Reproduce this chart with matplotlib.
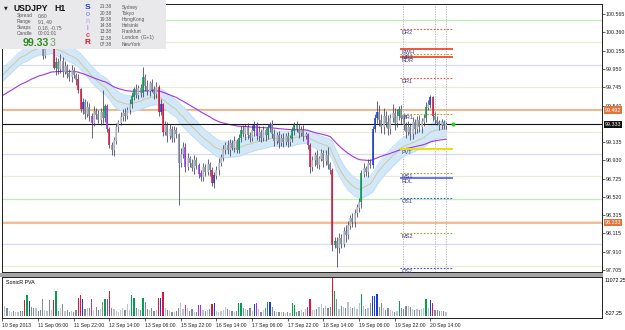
import numpy as np
import pandas as pd
import matplotlib
matplotlib.use("Agg")
import matplotlib.pyplot as plt
from matplotlib.patches import Rectangle
from matplotlib.transforms import blended_transform_factory

plt.rcParams['font.family'] = ['Liberation Sans', 'DejaVu Sans']

# ---------------- data ----------------
first_open = 100.25
closes = [
    100.28, 100.33, 100.30, 100.38, 100.42, 100.36, 100.44, 100.48, 100.40, 100.34,
    100.22, 100.40, 100.45, 100.38, 100.32, 100.36, 100.30, 100.27, 100.10, 100.24,
    100.30, 100.28, 100.30, 99.96, 100.02, 99.95, 100.04, 99.92, 99.98, 99.90,
    99.86, 99.93, 99.88, 99.83, 99.72, 99.50, 99.58, 99.45, 99.52, 99.42,
    99.35, 99.48, 99.44, 99.38, 99.47, 99.40, 99.53, 99.28, 99.10, 99.04,
    99.15, 99.30, 99.35, 99.41, 99.46, 99.42, 99.49, 99.56, 99.64, 99.72,
    99.66, 99.73, 99.68, 99.86, 99.76, 99.70, 99.79, 99.72, 99.67, 99.74,
    99.47, 99.55, 99.25, 99.32, 99.20, 99.28, 99.18, 99.26, 99.22, 98.90,
    99.00, 99.08, 98.86, 98.95, 98.90, 98.84, 98.93, 98.87, 98.78, 98.74,
    98.85, 98.80, 98.88, 98.82, 98.68, 98.76, 98.82, 98.90, 98.96, 99.05,
    99.10, 99.04, 99.12, 99.07, 99.14, 99.05, 99.18, 99.26, 99.22, 99.30,
    99.21, 99.18, 99.26, 99.32, 99.20, 99.24, 99.18, 99.26, 99.21, 99.30,
    99.33, 99.22, 99.15, 99.21, 99.12, 99.18, 99.14, 99.20, 99.13, 99.17,
    99.26, 99.32, 99.28, 99.24, 99.27, 99.20, 99.22, 99.10, 98.86, 98.93,
    98.98, 98.88, 98.95, 99.01, 98.92, 98.98, 98.88, 98.82, 97.98, 98.03,
    97.95, 98.06, 98.00, 98.14, 98.10, 98.20, 98.28, 98.24, 98.34, 98.40,
    98.46, 98.78, 98.84, 98.80, 98.90, 98.88, 99.28, 99.40, 99.47, 99.38,
    99.30, 99.42, 99.35, 99.28, 99.40, 99.45, 99.35, 99.42, 99.50, 99.40,
    99.32, 99.25, 99.30, 99.22, 99.35, 99.28, 99.38, 99.30, 99.36, 99.40,
    99.52, 99.55, 99.63, 99.42, 99.38, 99.35, 99.32, 99.35, 99.31, 99.333,
]
wick_up = [  # pips above candle body
    5, 4, 6, 5, 7, 4, 6, 8, 3, 4,
    3, 5, 6, 4, 5, 3, 4, 3, 2, 5,
    6, 4, 5, 4, 6, 5, 8, 4, 6, 3,
    5, 6, 4, 3, 6, 2, 5, 4, 7, 5,
    4, 6, 3, 5, 4, 25, 3, 3, 2, 4,
    4, 5, 3, 6, 4, 5, 4, 6, 5, 3,
    6, 4, 5, 11, 4, 7, 3, 5, 4, 6,
    3, 6, 2, 5, 4, 6, 3, 5, 4, 2,
    7, 5, 4, 6, 3, 5, 6, 4, 3, 4,
    5, 4, 6, 3, 3, 4, 5, 6, 4, 5,
    4, 6, 5, 4, 6, 3, 4, 5, 7, 4,
    5, 4, 6, 5, 4, 7, 4, 5, 3, 4,
    3, 5, 6, 4, 5, 4, 6, 3, 5, 4,
    4, 4, 5, 6, 4, 5, 3, 2, 2, 5,
    4, 6, 3, 5, 4, 6, 10, 3, 2, 4,
    4, 6, 5, 4, 7, 5, 4, 6, 5, 4,
    5, 4, 6, 3, 5, 4, 3, 5, 12, 8,
    7, 10, 6, 9, 5, 11, 6, 8, 4, 5,
    6, 4, 7, 5, 6, 4, 5, 6, 4, 5,
    6, 5, 3, 2, 5, 4, 3, 4, 3, 2,
]
wick_dn = [  # pips below candle body
    4, 5, 3, 6, 4, 5, 4, 3, 5, 4,
    3, 4, 5, 3, 6, 4, 5, 4, 4, 3,
    4, 5, 3, 1, 8, 5, 4, 6, 3, 5,
    4, 5, 3, 6, 4, 3, 5, 6, 4, 5,
    17, 4, 5, 3, 6, 5, 4, 3, 3, 5,
    6, 4, 5, 3, 4, 5, 3, 4, 5, 4,
    3, 5, 4, 4, 6, 4, 5, 3, 6, 4,
    4, 3, 5, 4, 6, 3, 5, 4, 4, 47,
    5, 4, 6, 4, 5, 3, 6, 4, 5, 4,
    4, 5, 3, 6, 4, 6, 4, 5, 3, 4,
    5, 4, 6, 3, 5, 4, 4, 5, 3, 6,
    4, 5, 3, 6, 4, 5, 4, 3, 6, 4,
    5, 4, 6, 4, 5, 3, 6, 4, 5, 4,
    4, 5, 3, 6, 4, 5, 3, 4, 7, 5,
    6, 4, 5, 3, 6, 4, 5, 4, 6, 3,
    21, 6, 5, 4, 8, 5, 4, 6, 5, 4,
    5, 6, 4, 5, 6, 4, 4, 3, 5, 7,
    6, 8, 5, 7, 6, 4, 8, 5, 4, 6,
    5, 7, 4, 6, 5, 6, 4, 5, 6, 5,
    4, 3, 4, 5, 4, 3, 5, 4, 3, 3,
]
volumes = [
    5500, 2800, 2200, 1500, 1300, 1400, 1200, 1300, 1400, 1500,
    4560, 6000, 4400, 2600, 2300, 2400, 1500, 1800, 4750, 1600,
    1400, 4560, 1800, 4560, 7200, 1500, 2200, 3300, 1400, 1600,
    1200, 1500, 1300, 1800, 5000, 6000, 4850, 2000, 2200, 2400,
    4750, 1800, 2500, 1600, 2000, 4000, 4750, 4850, 7000, 2300,
    2000, 1500, 1300, 1700, 2300, 1600, 3300, 1800, 6000, 5000,
    2400, 1900, 1600, 5200, 4000, 2000, 1700, 2300, 1500, 1800,
    5200, 5200, 6700, 2200, 1800, 1400, 1200, 1300, 1500, 2400,
    3600, 2000, 3100, 2200, 1500, 1900, 1300, 1200, 3100, 3100,
    1800, 1400, 1600, 2000, 3300, 3600, 1500, 1200, 1400, 1800,
    2600, 2100, 1700, 1500, 1300, 1400, 3800, 3800, 2300, 2000,
    1800, 2400, 1500, 3400, 3600, 2000, 1300, 1800, 2200, 3900,
    4100, 2500, 1500, 1300, 1200, 1100, 1300, 1000, 1200, 900,
    3800, 3100, 1300, 1500, 1800, 1200, 1900, 2600, 4850, 1600,
    1800, 2000, 2600, 3300, 2300, 2800, 2400, 2600, 10900, 7000,
    4750, 2100, 3000, 2500, 2400, 3900, 2600, 2300, 2500, 2100,
    3600, 6300, 2800, 1900, 2200, 3600, 5700, 5700, 6200, 2600,
    3800, 2200, 1800, 2300, 1600, 1400, 1200, 1500, 4300, 2300,
    1900, 2800, 2900, 2600, 2000, 1800, 1900, 1700, 2100, 2200,
    4850, 2300, 4560, 3800, 1700, 1600, 1500, 1400, 1500, 1300,
]
climax_bull = [11, 24, 46, 58, 59, 63, 106, 107, 119, 130, 131, 149, 161, 178, 190]
climax_bear = [10, 23, 34, 35, 48, 70, 72, 94, 138, 148, 193]
rising_bull = [12, 36, 71, 95, 113, 120, 166, 167, 168, 192]
rising_bear = [40, 47, 82, 88, 89, 114, 137]

# EMA seeds (indicator values at the first visible bar)
seed_hi, seed_lo, seed_mid, seed_trend = 99.93, 99.79, 99.86, 99.64

tick_step = 16
x_labels = ["10 Sep 2013", "11 Sep 06:00", "11 Sep 22:00", "12 Sep 14:00", "13 Sep 06:00",
            "15 Sep 22:00", "16 Sep 14:00", "17 Sep 06:00", "17 Sep 22:00", "18 Sep 14:00",
            "19 Sep 06:00", "19 Sep 22:00", "20 Sep 14:00"]
y_ticks = [100.565, 100.360, 100.155, 99.950, 99.745, 99.540, 99.135, 98.930,
           98.725, 98.520, 98.315, 98.115, 97.910, 97.705]
round_levels = [100.5, 100.25, 100.0, 99.75, 99.5, 99.25, 99.0, 98.75, 98.5, 98.25, 98.0, 97.75]
orange_levels = [99.492, 98.233]
bid = 99.333
pivot_names = ['DR2', 'RWH', 'MR2', 'RDR', 'DR1', 'MR1', 'PVT', 'MS1', 'RDL', 'OS1', 'MS2', 'OS2']
pivot_levels = [100.397, 100.174, 100.118, 100.085, 99.850, 99.448, 99.057, 98.790, 98.733, 98.510, 98.120, 97.730]
pivot_start, pivot_end = 178.3, 202.2
session_lines = [179.5, 194.0, 199.0]
vol_min, vol_max = -527.25, 11072.25
sessions_time = ["21:38", "20:38", "19:38", "14:38", "13:38", "12:38", "07:38"]
sessions_city = ["Sydney", "Tokyo", "HongKong", "Helsinki", "Frankfurt", "London  (G+1)", "NewYork"]
info_keys = ["Spread", "Range", "Swaps", "Candle"]
info_vals = ["0.60", "91, 49", "0.18, -0.75", "00:01:01"]

# ---------------- derived ----------------
n = len(closes)
c = np.array(closes)
o = np.r_[first_open, c[:-1]]
hi = np.maximum(o, c) + np.array(wick_up) / 100.0
lo = np.minimum(o, c) - np.array(wick_dn) / 100.0
x = np.arange(n)

def ema(vals, seed, span):
    s = pd.Series(np.r_[seed, vals]).ewm(span=span, adjust=False).mean().values
    return s[1:]

band_hi = ema(hi, seed_hi, 34)
band_lo = ema(lo, seed_lo, 34)
band_mid = ema(c, seed_mid, 34)
trend = ema(c, seed_trend, 89)

C_GREEN, C_RED, C_BLUE, C_PURP = '#00A050', '#E0143C', '#1A3AD8', '#A035E8'
C_UP, C_DN = '#BCC3CB', '#7F8B97'
cols = []
for i in range(n):
    if i in climax_bull:
        cols.append(C_GREEN)
    elif i in climax_bear:
        cols.append(C_RED)
    elif i in rising_bull:
        cols.append(C_BLUE)
    elif i in rising_bear:
        cols.append(C_PURP)
    else:
        cols.append(C_UP if c[i] >= o[i] else C_DN)

# ---------------- figure ----------------
W, H = 625, 330
fig = plt.figure(figsize=(W / 100, H / 100), dpi=100)
fig.patch.set_facecolor('white')
def fx(p): return p / W
def fy(p): return 1 - p / H

FS = 3.8
ax = fig.add_axes([fx(2), fy(272), 600 / W, 268 / H])
axv = fig.add_axes([fx(2), fy(318), 600 / W, 41 / H])
xl = (-0.224, 268.96)
for a in (ax, axv):
    a.set_xlim(*xl)
    for s in a.spines.values():
        s.set_linewidth(0.7)
        s.set_color('#202020')
ax.set_ylim(97.682, 100.677)

# round levels
for lv in round_levels:
    frac = round(lv % 1, 2)
    col = '#BDEFB5' if frac == 0.5 else ('#DADAF6' if frac == 0.0 else '#EAEAD6')
    ax.axhline(lv, color=col, lw=0.9, zorder=1)
for lv in orange_levels:
    ax.axhline(lv, color='#F2A77A', lw=1.1, zorder=1.2)

# session lines
for sx in session_lines:
    ax.axvline(sx, color='#A8A8A8', lw=0.6, ls=(0, (1.5, 1.5)), zorder=1.3)

# dragon band and trend
ax.fill_between(x, band_lo, band_hi, color='#D2E8F8', lw=0, zorder=2)
ax.plot(x, band_hi, color='#BCDDF4', lw=0.6, zorder=2.1)
ax.plot(x, band_lo, color='#BCDDF4', lw=0.6, zorder=2.1)
ax.plot(x, band_mid, color='#C9C690', lw=0.6, zorder=2.2)
ax.plot(x, trend, color='#A235E0', lw=0.8, zorder=2.3)
ax.axhline(bid, color='#101010', lw=0.8, zorder=2.5)

# candles
ax.vlines(x, lo, hi, colors='#3A3A5C', lw=0.55, zorder=4)
ax.vlines(x, np.minimum(o, c), np.maximum(o, c) + 0.004, colors=cols, lw=1.15, zorder=4.2)

# pivots
pstyle = {
    'DR': dict(color='#F04A3A', lw=0.8, ls=(0, (1.5, 1.5))),
    'R': dict(color='#F03A1A', lw=1.2, ls='-'),
    'M': dict(color='#A8A030', lw=0.8, ls=(0, (1.5, 1.5))),
    'P': dict(color='#E8E000', lw=1.4, ls='-'),
    'RL': dict(color='#4A60E0', lw=1.2, ls='-'),
    'O': dict(color='#3A4AF0', lw=0.8, ls=(0, (1.5, 1.5))),
}
for name, lv in zip(pivot_names, pivot_levels):
    if name.startswith('DR'):
        st = pstyle['DR']
    elif name == 'RDL':
        st = pstyle['RL']
    elif name.startswith('R'):
        st = pstyle['R']
    elif name.startswith('M'):
        st = pstyle['M']
    elif name == 'PVT':
        st = pstyle['P']
    else:
        st = pstyle['O']
    ax.plot([pivot_start, pivot_end], [lv, lv], zorder=5, solid_capstyle='butt', **st)
    ax.annotate(name, (pivot_start + 0.6, lv), xytext=(0, -0.6), textcoords='offset points',
                ha='left', va='top', fontsize=4.0, color='#3A3A86', zorder=6)

# current price dot
ax.scatter([n + 2], [c[-1]], s=9, color='#22D022', zorder=7, linewidths=0)

# y axis
ax.yaxis.tick_right()
ax.set_yticks(y_ticks)
ax.set_yticklabels([f"{v:.3f}" for v in y_ticks])
ax.tick_params(axis='y', length=1.8, width=0.5, labelsize=FS, pad=0.8, colors='#202020')
ax.set_xticks([])
tr = blended_transform_factory(ax.transAxes, ax.transData)
for lv, fc in ((orange_levels[0], '#E0743A'), (bid, '#101010'), (orange_levels[1], '#E0743A')):
    ax.text(1.0045, lv, f"{lv:.3f}", transform=tr, fontsize=FS, color='white', va='center',
            ha='left', clip_on=False, zorder=8,
            bbox=dict(boxstyle='square,pad=0.2', fc=fc, ec='none'))

# volume panel
axv.bar(x, volumes, width=0.55, color=cols, lw=0, zorder=2)
axv.set_ylim(vol_min, vol_max)
axv.set_yticks([])
axv.set_xticks(np.arange(len(x_labels)) * tick_step)
axv.set_xticklabels(x_labels)
for t in axv.get_xticklabels():
    t.set_ha('left')
axv.tick_params(axis='x', length=2, width=0.5, labelsize=3.7, pad=1.5, colors='#202020')
axv.text(0.006, 0.93, "SonicR PVA", transform=axv.transAxes, fontsize=FS, va='top', ha='left')
axv.text(1.004, 0.92, f"{vol_max:.2f}", transform=axv.transAxes, fontsize=FS, va='center', ha='left', clip_on=False)
axv.text(1.004, 0.10, f"{vol_min:.2f}", transform=axv.transAxes, fontsize=FS, va='center', ha='left', clip_on=False)

# separator between panels
fig.patches.append(Rectangle((fx(0), fy(276.5)), fx(603), 3.5 / H, transform=fig.transFigure,
                             fc='#A4A4A4', ec='none', zorder=3))

# info box
fig.patches.append(Rectangle((0, fy(49)), fx(166), 49 / H, transform=fig.transFigure,
                             fc='#E9E9EC', ec='none', zorder=5))
tk = dict(zorder=6, va='center', ha='left')
fig.text(fx(4), fy(7.5), "\u25BC", fontsize=3.5, color='#202020', family=['DejaVu Sans'], **tk)
fig.text(fx(13), fy(8.5), "USDJPY", fontsize=6.2, weight='bold', color='#101010', **tk)
fig.text(fx(54), fy(8.5), "H1", fontsize=6.2, weight='bold', color='#101010', **tk)
for k, (key, val) in enumerate(zip(info_keys, info_vals)):
    yy = 16 + k * 5.7
    fig.text(fx(17), fy(yy), key, fontsize=3.5, color='#555555', **tk)
    fig.text(fx(38), fy(yy), val, fontsize=3.5, color='#555555', **tk)
fig.text(fx(22.5), fy(43.5), f"{bid:.3f}"[:-1], fontsize=7.6, weight='bold', color='#2F8A22', **tk)
fig.text(fx(49.8), fy(43.5), f"{bid:.3f}"[-1], fontsize=7.6, color='#6FA068', **tk)
sonic = [("S", '#2040E0', 6, 'bold'), ("o", '#5A7AF0', 5.2, 'normal'), ("n", '#B8A2E8', 5.2, 'normal'),
         ("i", '#C05ACF', 5.2, 'normal'), ("c", '#E0405A', 5.2, 'bold'), ("R", '#E0102A', 6, 'bold')]
for k, (ch, col, fs, wt) in enumerate(sonic):
    fig.text(fx(87.5), fy(7.5 + k * 7.1), ch, fontsize=fs, weight=wt, color=col,
             zorder=6, va='center', ha='center')
for k, (tm, city) in enumerate(zip(sessions_time, sessions_city)):
    yy = 7 + k * 6.2
    fig.text(fx(100), fy(yy), tm, fontsize=3.5, color='#555555', **tk)
    fig.text(fx(122), fy(yy), city, fontsize=3.5, color='#555555', **tk)

fig.savefig("out.png", dpi=100, facecolor='white')
